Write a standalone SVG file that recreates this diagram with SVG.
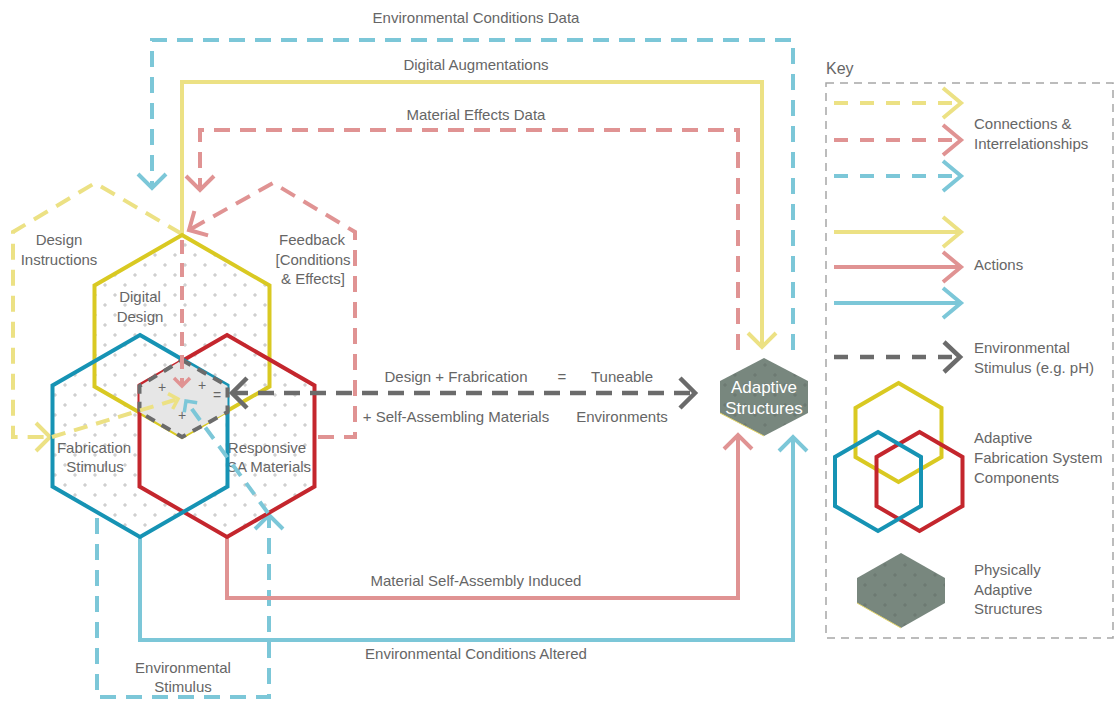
<svg xmlns="http://www.w3.org/2000/svg" width="1115" height="706" viewBox="0 0 1115 706">
<style>
text{font-family:"Liberation Sans",Arial,sans-serif;font-size:15px;fill:#666}
.c{text-anchor:middle}
.hexf{fill:url(#plus);stroke:none}
.hs{fill:none;stroke-width:4}
.hy{stroke:#d9c922}.hb{stroke:#1693b4}.hr{stroke:#c4262d}
.cn{fill:none;stroke-width:4}
.dash{stroke-dasharray:16 10}
.ly{stroke:#ece184}.lp{stroke:#e09393}.lb{stroke:#7cc7d8}.lg{stroke:#6b6b6b}
</style>
<defs>
<pattern id="plus" width="20" height="20" patternUnits="userSpaceOnUse">
<rect width="20" height="20" fill="#fff"/>
<path d="M3 5h4M5 3v4M13 15h4M15 13v4" stroke="#ababab" stroke-width="0.7"/>
</pattern>
<pattern id="plusd" width="20" height="20" patternUnits="userSpaceOnUse">
<rect width="20" height="20" fill="#78877e"/>
<path d="M3 5h4M5 3v4M13 15h4M15 13v4" stroke="#63706a" stroke-width="0.7"/>
</pattern>
<marker id="my" markerUnits="userSpaceOnUse" orient="auto-start-reverse" overflow="visible" refX="0" refY="0" markerWidth="40" markerHeight="40"><path d="M-14,-14L0,0L-14,14" fill="none" stroke="#ece184" stroke-width="4"/></marker>
<marker id="mp" markerUnits="userSpaceOnUse" orient="auto-start-reverse" overflow="visible" refX="0" refY="0" markerWidth="40" markerHeight="40"><path d="M-14,-14L0,0L-14,14" fill="none" stroke="#e09393" stroke-width="4"/></marker>
<marker id="mb" markerUnits="userSpaceOnUse" orient="auto-start-reverse" overflow="visible" refX="0" refY="0" markerWidth="40" markerHeight="40"><path d="M-14,-14L0,0L-14,14" fill="none" stroke="#7cc7d8" stroke-width="4"/></marker>
<marker id="mg" markerUnits="userSpaceOnUse" orient="auto-start-reverse" overflow="visible" refX="0" refY="0" markerWidth="40" markerHeight="40"><path d="M-15,-15L0,0L-15,15" fill="none" stroke="#6b6b6b" stroke-width="4.5"/></marker>
<marker id="sy" markerUnits="userSpaceOnUse" orient="auto" overflow="visible" refX="0" refY="0" markerWidth="20" markerHeight="20"><path d="M-8,-8L0,0L-8,8" fill="none" stroke="#ece184" stroke-width="3.5"/></marker>
<marker id="sp" markerUnits="userSpaceOnUse" orient="auto" overflow="visible" refX="0" refY="0" markerWidth="20" markerHeight="20"><path d="M-8,-8L0,0L-8,8" fill="none" stroke="#e09393" stroke-width="3.5"/></marker>
<marker id="sb" markerUnits="userSpaceOnUse" orient="auto" overflow="visible" refX="0" refY="0" markerWidth="20" markerHeight="20"><path d="M-8,-8L0,0L-8,8" fill="none" stroke="#7cc7d8" stroke-width="3.5"/></marker>
<marker id="ky" markerUnits="userSpaceOnUse" orient="auto" overflow="visible" refX="0" refY="0" markerWidth="40" markerHeight="40"><path d="M-18,-15L0,0L-18,15" fill="none" stroke="#ece184" stroke-width="4"/></marker>
<marker id="kp" markerUnits="userSpaceOnUse" orient="auto" overflow="visible" refX="0" refY="0" markerWidth="40" markerHeight="40"><path d="M-18,-15L0,0L-18,15" fill="none" stroke="#e09393" stroke-width="4"/></marker>
<marker id="kb" markerUnits="userSpaceOnUse" orient="auto" overflow="visible" refX="0" refY="0" markerWidth="40" markerHeight="40"><path d="M-18,-15L0,0L-18,15" fill="none" stroke="#7cc7d8" stroke-width="4"/></marker>
<marker id="kg" markerUnits="userSpaceOnUse" orient="auto" overflow="visible" refX="0" refY="0" markerWidth="40" markerHeight="40"><path d="M-16,-15L0,0L-16,15" fill="none" stroke="#6b6b6b" stroke-width="4.5"/></marker>
</defs>
<rect width="1115" height="706" fill="#fff"/>

<g id="connectors">
<path id="c-env-data" class="cn dash lb" d="M793,350V40H152V188" marker-end="url(#mb)"/>
<path id="c-dig-aug" class="cn ly" d="M182,235V82H762V347" marker-end="url(#my)"/>
<path id="c-mat-eff" class="cn dash lp" d="M738,350V130H200V190" marker-end="url(#mp)"/>
<path id="c-feedback" class="cn dash lp" d="M318,437H355V232L273,183L189,230" marker-end="url(#mp)"/>
<path id="c-design-instr" class="cn dash ly" d="M182,234L95,183L13,232V437H50" marker-end="url(#my)"/>
<path id="c-env-stim" class="cn dash lb" d="M97,518V697H269V515" marker-end="url(#mb)"/>
<path id="c-self-assembly" class="cn lp" d="M227,538V598H738V435" marker-end="url(#mp)"/>
<path id="c-env-altered" class="cn lb" d="M140,538V640H793V437" marker-end="url(#mb)"/>
</g>

<g id="hex-fills">
<polygon class="hexf" points="182,235 269.5,285.5 269.5,386.5 182,437 94.5,386.5 94.5,285.5"/>
<polygon class="hexf" points="140,335 227.5,385.5 227.5,486.5 140,537 52.5,486.5 52.5,385.5"/>
<polygon class="hexf" points="227,335 314.5,385.5 314.5,486.5 227,537 139.5,486.5 139.5,385.5"/>
<polygon points="141.5,414 182,439 225.5,414 225.5,486 183.5,511 141.5,486" fill="#fff"/>
</g>
<g id="node-digital-design">
<polygon class="hs hy" points="182,235 269.5,285.5 269.5,386.5 182,437 94.5,386.5 94.5,285.5"/>
<text class="c" x="140" y="302">Digital</text>
<text class="c" x="140" y="322">Design</text>
</g>
<g id="node-responsive-sa">
<polygon class="hs hr" points="227,335 314.5,385.5 314.5,486.5 227,537 139.5,486.5 139.5,385.5"/>
<text class="c" x="267" y="453">Responsive</text>
<text class="c" x="269" y="472">SA Materials</text>
</g>
<g id="node-fabrication-stimulus">
<polygon class="hs hb" points="140,335 227.5,385.5 227.5,486.5 140,537 52.5,486.5 52.5,385.5"/>
<text class="c" x="94" y="453">Fabrication</text>
<text class="c" x="95" y="472">Stimulus</text>
</g>
<g id="node-core">
<polygon points="182,360 227.5,386 227.5,412 182,437 139.5,412 139.5,386" fill="#e6e6e6"/>
<polygon points="182,360 227.5,386 227.5,412 182,437 139.5,412 139.5,386" fill="none" stroke="#6b6b6b" stroke-width="4" stroke-dasharray="10 8"/>
<text class="c" x="162" y="392" style="font-size:14px">+</text>
<text class="c" x="202" y="390" style="font-size:14px">+</text>
<text class="c" x="182" y="420" style="font-size:14px">+</text>
<text class="c" x="217" y="400" style="font-size:14px">=</text>
</g>

<g id="connectors-inner">
<path id="c-fab-center" class="cn dash ly" style="stroke-dasharray:14 9" d="M52,437L178,399" marker-end="url(#sy)"/>
<path id="c-dd-center" class="cn dash lp" style="stroke-dasharray:14 9" d="M182,240V386" marker-end="url(#sp)"/>
<path id="c-stim-center" class="cn dash lb" style="stroke-dasharray:14 9" d="M268,513L186,401" marker-end="url(#sb)"/>
<path id="c-design-fab" class="cn dash lg" style="stroke-width:4.5;stroke-dasharray:16 10" d="M232,393H695" marker-start="url(#mg)" marker-end="url(#mg)"/>
</g>

<g id="node-adaptive-structures">
<polygon points="764,358 808,381 808,413 764,436 720,413 720,381" fill="url(#plusd)"/>
<polyline points="720,413 764,436" fill="none" stroke="#e3d46a" stroke-width="1"/>
<text class="c" x="764" y="393" style="font-size:17px;fill:#fff">Adaptive</text>
<text class="c" x="764" y="414" style="font-size:17px;fill:#fff">Structures</text>
</g>

<g id="labels">
<text class="c" x="476" y="23">Environmental Conditions Data</text>
<text class="c" x="476" y="70">Digital Augmentations</text>
<text class="c" x="476" y="120">Material Effects Data</text>
<text class="c" x="59" y="245">Design</text>
<text class="c" x="59" y="265">Instructions</text>
<text class="c" x="312" y="245">Feedback</text>
<text class="c" x="313" y="265">[Conditions</text>
<text class="c" x="313" y="284">&amp; Effects]</text>
<text class="c" x="456" y="382">Design + Frabrication</text>
<text class="c" x="562" y="382">=</text>
<text class="c" x="622" y="382">Tuneable</text>
<text class="c" x="456" y="422">+ Self-Assembling Materials</text>
<text class="c" x="622" y="422">Environments</text>
<text class="c" x="476" y="586">Material Self-Assembly Induced</text>
<text class="c" x="476" y="659">Environmental Conditions Altered</text>
<text class="c" x="183" y="673">Environmental</text>
<text class="c" x="183" y="692">Stimulus</text>
</g>

<g id="key">
<text x="826" y="74" style="font-size:16px">Key</text>
<rect x="826" y="83" width="287" height="555" fill="none" stroke="#a6a6a6" stroke-width="1.5" stroke-dasharray="8 6"/>
<line x1="834" y1="103" x2="961" y2="103" class="cn ly" style="stroke-dasharray:14 12" marker-end="url(#ky)"/>
<line x1="834" y1="140" x2="961" y2="140" class="cn lp" style="stroke-dasharray:14 12" marker-end="url(#kp)"/>
<line x1="834" y1="176" x2="961" y2="176" class="cn lb" style="stroke-dasharray:14 12" marker-end="url(#kb)"/>
<line x1="834" y1="232" x2="961" y2="232" class="cn ly" marker-end="url(#ky)"/>
<line x1="834" y1="267" x2="961" y2="267" class="cn lp" marker-end="url(#kp)"/>
<line x1="834" y1="303" x2="961" y2="303" class="cn lb" marker-end="url(#kb)"/>
<line x1="834" y1="357" x2="960" y2="357" class="cn lg" style="stroke-width:4.5;stroke-dasharray:14 12" marker-end="url(#kg)"/>
<text x="974" y="129">Connections &amp;</text>
<text x="974" y="149">Interrelationships</text>
<text x="974" y="270">Actions</text>
<text x="974" y="353">Environmental</text>
<text x="974" y="373">Stimulus (e.g. pH)</text>
<polygon points="898.5,383 941.5,408 941.5,457 898.5,482 855.5,457 855.5,408" fill="none" stroke="#d9c922" stroke-width="4"/>
<polygon points="919.5,432 962.5,457 962.5,506 919.5,531 876.5,506 876.5,457" fill="none" stroke="#c4262d" stroke-width="4"/>
<polygon points="878,432 921,457 921,506 878,531 835,506 835,457" fill="none" stroke="#1693b4" stroke-width="4"/>
<text x="974" y="443">Adaptive</text>
<text x="974" y="463">Fabrication System</text>
<text x="974" y="483">Components</text>
<polygon points="901,553 945,578 945,603 901,628 857,603 857,578" fill="url(#plusd)"/>
<polyline points="857,603 901,628" fill="none" stroke="#e3d46a" stroke-width="1"/>
<text x="974" y="575">Physically</text>
<text x="974" y="595">Adaptive</text>
<text x="974" y="614">Structures</text>
</g>
</svg>
